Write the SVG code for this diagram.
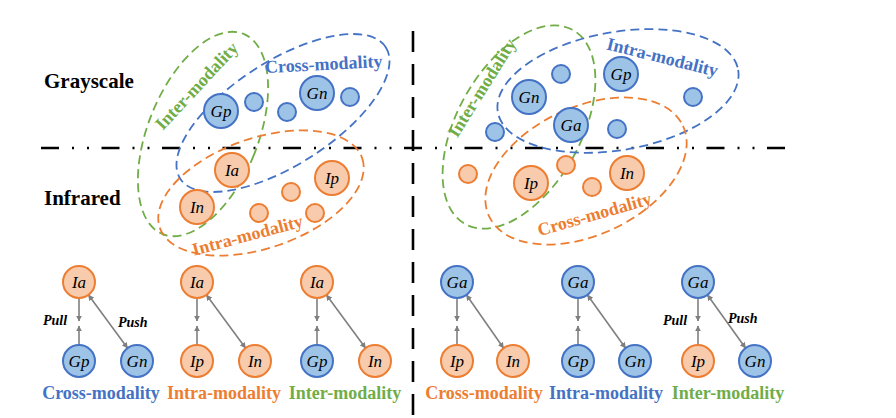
<svg xmlns="http://www.w3.org/2000/svg" width="896" height="418" viewBox="0 0 896 418">
<style>
.bg{fill:#fff}
.g{fill:#9DC3E6;stroke:#4472C4;stroke-width:2}
.o{fill:#F8CBAD;stroke:#ED7D31;stroke-width:2}
.nl{font-family:"Liberation Serif",serif;font-style:italic;font-size:17px;text-anchor:middle;fill:#000}
.ell{fill:none;stroke-width:1.8;stroke-dasharray:9 5}
.eb{stroke:#4472C4}.eo{stroke:#ED7D31}.eg{stroke:#70AD47}
.lab{font-family:"Liberation Serif",serif;font-weight:bold;font-size:18px;text-anchor:middle}
.tb{fill:#4472C4}.to{fill:#ED7D31}.tg{fill:#70AD47}
.row{font-family:"Liberation Serif",serif;font-weight:bold;font-size:21px;fill:#000}
.pp{font-family:"Liberation Serif",serif;font-weight:bold;font-style:italic;font-size:14px;fill:#000}
.ar{stroke:#7F7F7F;stroke-width:1.6;fill:none}
</style>
<defs>
<marker id="ah" viewBox="0 0 10 10" refX="9" refY="5" markerWidth="6" markerHeight="6" markerUnits="userSpaceOnUse" orient="auto-start-reverse">
<path d="M0,0 L10,5 L0,10 z" fill="#7F7F7F"/>
</marker>
</defs>
<rect class="bg" width="896" height="418"/>

<g id="dividers">
<line x1="41" y1="148" x2="790" y2="148" stroke="#000" stroke-width="2.6" stroke-dasharray="18 13 2 13 2 12.5"/>
<line x1="413" y1="31" x2="413" y2="418" stroke="#000" stroke-width="2.6" stroke-dasharray="21 12"/>
</g>

<g id="row-labels">
<text class="row" x="44" y="88">Grayscale</text>
<text class="row" x="44" y="205">Infrared</text>
</g>

<!-- left panel -->
<g id="left-ellipses">
<ellipse class="ell eg" cx="203" cy="134" rx="55" ry="108" transform="rotate(22 203 134)"/>
<ellipse class="ell eb" cx="283" cy="113" rx="122" ry="52" transform="rotate(-32.6 283 113)"/>
<ellipse class="ell eo" cx="261" cy="193" rx="107" ry="55" transform="rotate(-19 261 193)"/>
</g>
<g id="left-ellipse-labels">
<text class="lab tg" transform="translate(201 90) rotate(-47)">Inter-modality</text>
<text class="lab tb" transform="translate(324 70) rotate(-3)">Cross-modality</text>
<text class="lab to" transform="translate(249 241) rotate(-15)">Intra-modality</text>
</g>
<g id="left-Gp"><circle class="g" cx="221" cy="111" r="17"/><text class="nl" x="221" y="117">Gp</text></g>
<g id="left-g1"><circle class="g" cx="254" cy="102" r="9"/></g>
<g id="left-g2"><circle class="g" cx="287" cy="112" r="9"/></g>
<g id="left-Gn"><circle class="g" cx="317" cy="93" r="17"/><text class="nl" x="317" y="99">Gn</text></g>
<g id="left-g3"><circle class="g" cx="350" cy="97" r="9"/></g>
<g id="left-Ia"><circle class="o" cx="232" cy="170" r="17"/><text class="nl" x="232" y="176">Ia</text></g>
<g id="left-Ip"><circle class="o" cx="332" cy="178" r="17"/><text class="nl" x="332" y="184">Ip</text></g>
<g id="left-o1"><circle class="o" cx="291" cy="192" r="9"/></g>
<g id="left-In"><circle class="o" cx="197" cy="207" r="17"/><text class="nl" x="197" y="213">In</text></g>
<g id="left-o2"><circle class="o" cx="259" cy="213" r="9"/></g>
<g id="left-o3"><circle class="o" cx="315" cy="213" r="9"/></g>

<!-- right panel -->
<g id="right-ellipses">
<ellipse class="ell eg" cx="519" cy="127" rx="62" ry="111" transform="rotate(29 519 127)"/>
<ellipse class="ell eb" cx="618" cy="91" rx="122" ry="59" transform="rotate(-10 618 91)"/>
<ellipse class="ell eo" cx="586" cy="171" rx="107" ry="64" transform="rotate(-25 586 171)"/>
</g>
<g id="right-ellipse-labels">
<text class="lab tg" transform="translate(487 91) rotate(-58)">Inter-modality</text>
<text class="lab tb" transform="translate(661 63) rotate(14)">Intra-modality</text>
<text class="lab to" transform="translate(596 220) rotate(-16)">Cross-modality</text>
</g>
<g id="right-g1"><circle class="g" cx="561" cy="74" r="9"/></g>
<g id="right-Gp"><circle class="g" cx="621" cy="74" r="17"/><text class="nl" x="621" y="80">Gp</text></g>
<g id="right-Gn"><circle class="g" cx="529" cy="97" r="17"/><text class="nl" x="529" y="103">Gn</text></g>
<g id="right-g2"><circle class="g" cx="693" cy="97" r="9"/></g>
<g id="right-Ga"><circle class="g" cx="571" cy="125" r="17"/><text class="nl" x="571" y="131">Ga</text></g>
<g id="right-g3"><circle class="g" cx="495" cy="132" r="9"/></g>
<g id="right-g4"><circle class="g" cx="617" cy="129" r="9"/></g>
<g id="right-o1"><circle class="o" cx="468" cy="174" r="9"/></g>
<g id="right-Ip"><circle class="o" cx="531" cy="183" r="17"/><text class="nl" x="531" y="189">Ip</text></g>
<g id="right-o2"><circle class="o" cx="566" cy="165" r="9"/></g>
<g id="right-o3"><circle class="o" cx="592" cy="187" r="9"/></g>
<g id="right-In"><circle class="o" cx="627" cy="173" r="17"/><text class="nl" x="627" y="179">In</text></g>

<!-- connectors -->
<g id="connectors">
<line class="ar" x1="79" y1="298" x2="79" y2="321" marker-end="url(#ah)"/>
<line class="ar" x1="79" y1="345" x2="79" y2="326" marker-end="url(#ah)"/>
<line class="ar" x1="88.5" y1="295" x2="127.5" y2="348" marker-start="url(#ah)" marker-end="url(#ah)"/>
<line class="ar" x1="197" y1="298" x2="197" y2="321" marker-end="url(#ah)"/>
<line class="ar" x1="197" y1="345" x2="197" y2="326" marker-end="url(#ah)"/>
<line class="ar" x1="206.5" y1="295" x2="245.5" y2="348" marker-start="url(#ah)" marker-end="url(#ah)"/>
<line class="ar" x1="317" y1="298" x2="317" y2="321" marker-end="url(#ah)"/>
<line class="ar" x1="317" y1="345" x2="317" y2="326" marker-end="url(#ah)"/>
<line class="ar" x1="326.5" y1="295" x2="365.5" y2="348" marker-start="url(#ah)" marker-end="url(#ah)"/>
<line class="ar" x1="457" y1="298" x2="457" y2="321" marker-end="url(#ah)"/>
<line class="ar" x1="457" y1="345" x2="457" y2="326" marker-end="url(#ah)"/>
<line class="ar" x1="466.5" y1="295" x2="503.5" y2="348" marker-start="url(#ah)" marker-end="url(#ah)"/>
<line class="ar" x1="578" y1="298" x2="578" y2="321" marker-end="url(#ah)"/>
<line class="ar" x1="578" y1="345" x2="578" y2="326" marker-end="url(#ah)"/>
<line class="ar" x1="587.5" y1="295" x2="625.5" y2="348" marker-start="url(#ah)" marker-end="url(#ah)"/>
<line class="ar" x1="698" y1="298" x2="698" y2="321" marker-end="url(#ah)"/>
<line class="ar" x1="698" y1="345" x2="698" y2="326" marker-end="url(#ah)"/>
<line class="ar" x1="707.5" y1="295" x2="745.5" y2="348" marker-start="url(#ah)" marker-end="url(#ah)"/>
</g>

<g id="pull-push">
<text class="pp" x="43" y="325">Pull</text>
<text class="pp" x="118" y="327">Push</text>
<text class="pp" x="663" y="325">Pull</text>
<text class="pp" x="728" y="323">Push</text>
</g>

<!-- bottom groups -->
<g id="b1-Ia"><circle class="o" cx="79" cy="282" r="16"/><text class="nl" x="79" y="288">Ia</text></g>
<g id="b1-Gp"><circle class="g" cx="79" cy="361" r="16"/><text class="nl" x="79" y="367">Gp</text></g>
<g id="b1-Gn"><circle class="g" cx="137" cy="361" r="16"/><text class="nl" x="137" y="367">Gn</text></g>
<g id="b2-Ia"><circle class="o" cx="197" cy="282" r="16"/><text class="nl" x="197" y="288">Ia</text></g>
<g id="b2-Ip"><circle class="o" cx="197" cy="361" r="16"/><text class="nl" x="197" y="367">Ip</text></g>
<g id="b2-In"><circle class="o" cx="255" cy="361" r="16"/><text class="nl" x="255" y="367">In</text></g>
<g id="b3-Ia"><circle class="o" cx="317" cy="282" r="16"/><text class="nl" x="317" y="288">Ia</text></g>
<g id="b3-Gp"><circle class="g" cx="317" cy="361" r="16"/><text class="nl" x="317" y="367">Gp</text></g>
<g id="b3-In"><circle class="o" cx="375" cy="361" r="16"/><text class="nl" x="375" y="367">In</text></g>
<g id="b4-Ga"><circle class="g" cx="457" cy="282" r="16"/><text class="nl" x="457" y="288">Ga</text></g>
<g id="b4-Ip"><circle class="o" cx="457" cy="361" r="16"/><text class="nl" x="457" y="367">Ip</text></g>
<g id="b4-In"><circle class="o" cx="513" cy="361" r="16"/><text class="nl" x="513" y="367">In</text></g>
<g id="b5-Ga"><circle class="g" cx="578" cy="282" r="16"/><text class="nl" x="578" y="288">Ga</text></g>
<g id="b5-Gp"><circle class="g" cx="578" cy="361" r="16"/><text class="nl" x="578" y="367">Gp</text></g>
<g id="b5-Gn"><circle class="g" cx="635" cy="361" r="16"/><text class="nl" x="635" y="367">Gn</text></g>
<g id="b6-Ga"><circle class="g" cx="698" cy="282" r="16"/><text class="nl" x="698" y="288">Ga</text></g>
<g id="b6-Ip"><circle class="o" cx="698" cy="361" r="16"/><text class="nl" x="698" y="367">Ip</text></g>
<g id="b6-Gn"><circle class="g" cx="755" cy="361" r="16"/><text class="nl" x="755" y="367">Gn</text></g>

<g id="bottom-labels">
<text class="lab tb" x="101" y="399">Cross-modality</text>
<text class="lab to" x="224" y="399">Intra-modality</text>
<text class="lab tg" x="345" y="399">Inter-modality</text>
<text class="lab to" x="484" y="399">Cross-modality</text>
<text class="lab tb" x="606" y="399">Intra-modality</text>
<text class="lab tg" x="728" y="399">Inter-modality</text>
</g>
</svg>
